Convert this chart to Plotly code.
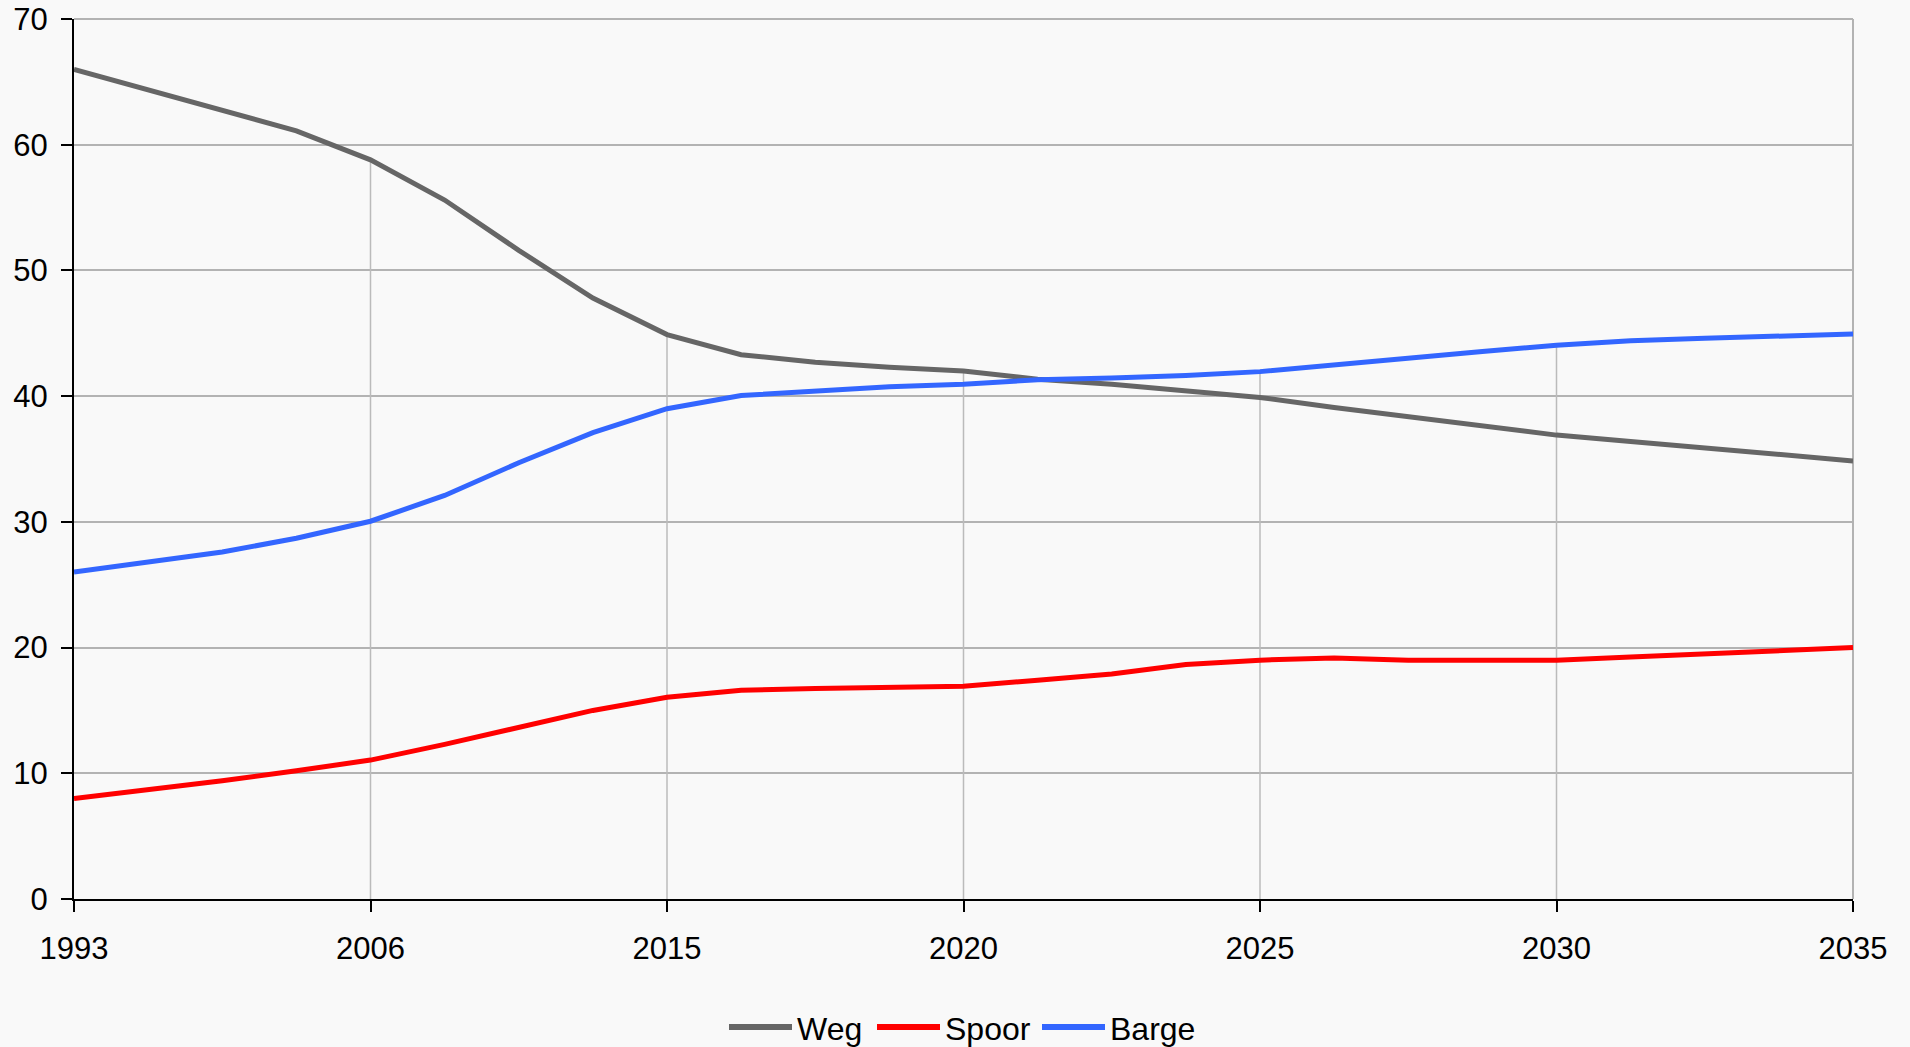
import plotly.graph_objects as go

# ---- data ----
steps = [0, 2, 4, 6, 8, 10, 12, 14, 16, 18, 20, 22, 24, 26, 28, 30, 32, 34, 36, 38, 40, 42, 44, 46, 48]
tick_steps = [0, 8, 16, 24, 32, 40, 48]
tick_labels = ["1993", "2006", "2015", "2020", "2025", "2030", "2035"]

weg = [66.0, 64.4, 62.8, 61.1, 58.8, 55.6, 51.6, 47.8, 44.9, 43.3, 42.7, 42.3, 42.0,
       41.35, 40.95, 40.45, 39.9, 39.1, 38.4, 37.6, 36.9, 36.4, 35.9, 35.4, 34.85]
spoor = [8.0, 8.7, 9.4, 10.2, 11.05, 12.3, 13.7, 15.0, 16.05, 16.6, 16.75, 16.8, 16.93,
         17.4, 17.9, 18.65, 19.0, 19.17, 19.0, 19.0, 19.0, 19.25, 19.5, 19.75, 20.0]
barge = [26.0, 26.8, 27.6, 28.7, 30.05, 32.1, 34.7, 37.1, 39.0, 40.05, 40.45, 40.75, 40.95,
         41.3, 41.45, 41.65, 41.95, 42.5, 43.0, 43.55, 44.05, 44.4, 44.6, 44.75, 44.95]

series_names = ["Weg", "Spoor", "Barge"]
series_values = [weg, spoor, barge]
series_colors = ["#666666", "#ff0000", "#3366ff"]

# ---- layout geometry ----
W, H = 1910, 1047
ML, MR, MT, MB = 74, 57, 19, 148
PW, PH = W - ML - MR, H - MT - MB
FONT = "Liberation Sans, Arial, sans-serif"
GRID = "#b3b3b3"
BG = "#f9f9f9"


def px_x(px):
    return (px - ML) / PW


def px_y(py):
    return (H - MB - py) / PH


fig = go.Figure()

# drop lines from the highest series down to the axis at inner ticks
dx, dy = [], []
for t in tick_steps[1:-1]:
    i = steps.index(t)
    top = max(v[i] for v in series_values)
    dx += [t, t, None]
    dy += [0, top, None]
fig.add_trace(go.Scatter(x=dx, y=dy, mode="lines", line=dict(color="#bbbbbb", width=1.5),
                         showlegend=False, hoverinfo="skip"))

for name, vals, col in zip(series_names, series_values, series_colors):
    fig.add_trace(go.Scatter(x=steps, y=vals, name=name, mode="lines",
                             line=dict(color=col, width=5), cliponaxis=False,
                             showlegend=False))

# right and top border of the plot area
shapes = [
    dict(type="line", xref="paper", yref="paper", x0=1, x1=1, y0=0, y1=1,
         line=dict(color=GRID, width=2), layer="below"),
    dict(type="line", xref="paper", yref="paper", x0=0, x1=1, y0=1, y1=1,
         line=dict(color=GRID, width=2), layer="below"),
]

# manual legend
annotations = []
leg_y = 1027
sample_x = [729, 877, 1042]
sample_len = 63
for name, col, sx in zip(series_names, series_colors, sample_x):
    shapes.append(dict(type="line", xref="paper", yref="paper",
                       x0=px_x(sx), x1=px_x(sx + sample_len), y0=px_y(leg_y), y1=px_y(leg_y),
                       line=dict(color=col, width=6)))
    annotations.append(dict(xref="paper", yref="paper", x=px_x(sx + sample_len + 3), y=px_y(leg_y + 2),
                            xanchor="left", yanchor="middle", text=name, showarrow=False,
                            font=dict(family=FONT, size=32, color="#000000")))

fig.update_layout(
    width=W, height=H,
    margin=dict(l=ML, r=MR, t=MT, b=MB, pad=0, autoexpand=False),
    paper_bgcolor=BG, plot_bgcolor=BG,
    font=dict(family=FONT, size=31, color="#000000"),
    shapes=shapes, annotations=annotations,
    showlegend=False,
)
fig.update_xaxes(range=[0, 48], tickmode="array", tickvals=tick_steps, ticktext=tick_labels,
                 showgrid=False, zeroline=False, showline=True, linecolor="#000000", linewidth=2,
                 ticks="outside", ticklen=11, tickwidth=1.5, tickcolor="#000000", automargin=False,
                 ticklabelstandoff=10, tickfont=dict(family=FONT, size=31, color="#000000"))
fig.update_yaxes(range=[0, 70], tickvals=[0, 10, 20, 30, 40, 50, 60, 70],
                 showgrid=True, gridcolor=GRID, gridwidth=2, zeroline=False,
                 showline=True, linecolor="#000000", linewidth=2, automargin=False,
                 ticks="outside", ticklen=11, tickwidth=1.5, tickcolor="#000000",
                 ticklabelstandoff=7, tickfont=dict(family=FONT, size=31, color="#000000"))

post = ("document.documentElement.style.margin='0';"
        "document.body.style.margin='0';document.body.style.padding='0';"
        "document.body.style.overflow='hidden';document.body.style.background='" + BG + "';"
        "var gd=document.getElementById('{plot_id}');"
        "gd.style.position='absolute';gd.style.left='0px';gd.style.top='0px';")
fig.write_html("out.html", post_script=post, config={"displayModeBar": False})
